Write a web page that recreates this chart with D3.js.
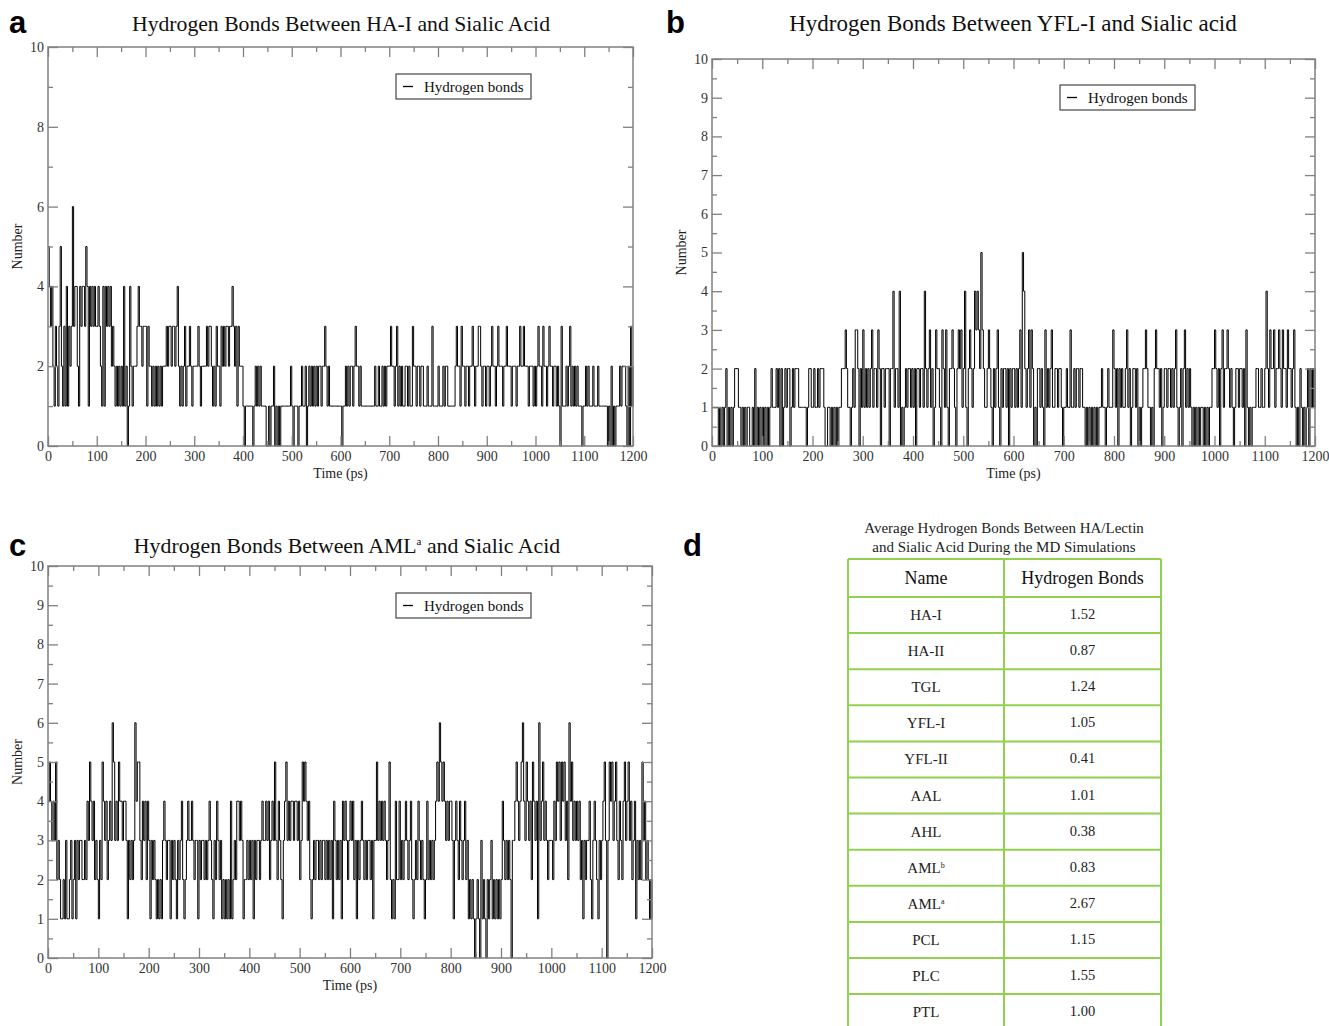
<!DOCTYPE html>
<html>
<head>
<meta charset="utf-8">
<script src="https://cdn.jsdelivr.net/npm/d3@7"></script>
<style>
  body { margin: 0; background: #fff; }
  svg text { font-family: "Liberation Serif", "Times New Roman", serif; }
</style>
</head>
<body>
<svg id="fig" width="1329" height="1026"></svg>
<script>
// sampling interval (ps); every string below covers 50 ps
var timeStep = 2.5;

// hydrogen bond counts (HA-I)
var hbondsA = [
  "54342132135213141323", "63442143443541434343", "34321414343423212121", "21412014212223433233",
  "31322121212121222323", "32332342121231223212", "22232122223233212132", "21323233233432313222",
  "10111111012121211110", "01011201010111111112", "10111011211201212121", "21221223212111111111",
  "10112121221232212111", "11111111211211212122", "23221231212112212113", "22122122111211131111",
  "21112122111111232213", "22122122321223321221", "22123221232221223222", "12221223223222122212",
  "12322132212322122121", "03111212312121211101", "12121112111211111110", "102010111212221020312"
];

// panel b (YFL-I)
var hbondsB = [
  "11111010101201010122", "21101010110010201010", "10101012111212020121", "22012122211111101221",
  "12112122210011010101", "01122232110121332021", "31212123122132022122", "20224122140101212212",
  "12022122142123120132", "21032131022321023231", "24102321243432532112", "32102123102122120212",
  "21212315421231320102", "21210312123112212210", "11211311212212211010", "10101010112110121113",
  "21202121123120122120", "10122321101023221201", "22122121231012023121", "21010101011010101122",
  "32120231223212101221", "22120310101112211211", "24213223122321322132", "212310102101012021212"
];

// panel c (AML a)
var hbondsC = [
  "45434352321121311231", "23132332232435434232", "13254342343653435443", "44313232364553243424",
  "31323212121343233132", "32132342123433432331", "32332323432132432312", "12121412324434312232",
  "32313233234334342343", "53243213453434434434", "23545434212323323233", "23232314323231434323",
  "43423132343232332313", "35343434323521214224", "23234323421232432321", "24232323454654543434",
  "43134324323423121210", "12103121021231212121", "24323232033454345643", "54342543416345343233",
  "32435453545342645343", "43423132334213432132", "34530354534532432453", "453423413232534232121"
];

var xMajor = d3.range(0, 1201, 100);
var xMinor = d3.range(50, 1200, 100);

// table d
var tableNames = ["HA-I", "HA-II", "TGL", "YFL-I", "YFL-II", "AAL", "AHL", "AML|b", "AML|a", "PCL", "PLC", "PTL"];
var tableValues = ["1.52", "0.87", "1.24", "1.05", "0.41", "1.01", "0.38", "0.83", "2.67", "1.15", "1.55", "1.00"];

function toPoints(chunks) {
  var pts = [];
  chunks.forEach(function(str, ci) {
    str.split("").forEach(function(c, j) {
      pts.push({ t: ci * 50 + j * timeStep, v: +c });
    });
  });
  return pts;
}

var svg = d3.select("#fig");
var frameColor = "#808080";

function drawPanel(p) {
  var x = d3.scaleLinear().domain([0, 1200]).range([p.left, p.right]);
  var y = d3.scaleLinear().domain([0, 10]).range([p.bottom, p.top]);
  var g = svg.append("g").attr("class", "panel");

  // data line
  var line = d3.line()
    .x(function(d) { return x(d.t); })
    .y(function(d) { return y(d.v); })
    .curve(d3.curveStepAfter);
  g.append("path")
    .datum(toPoints(p.series))
    .attr("fill", "none")
    .attr("stroke", "#000")
    .attr("stroke-width", 1)
    .attr("d", line);

  function styleAxis(sel) {
    sel.select(".domain").remove();
    sel.selectAll(".tick line").attr("stroke", frameColor).attr("stroke-width", 1.3);
    sel.selectAll(".tick text")
      .attr("fill", "#333")
      .style("font-size", "14px")
      .style("font-family", "Liberation Serif, serif");
  }

  // bottom axis with labels, inward ticks
  g.append("g").attr("transform", "translate(0," + p.bottom + ")")
    .call(d3.axisBottom(x).tickValues(xMajor).tickSize(-10).tickPadding(5).tickFormat(d3.format("d")))
    .call(styleAxis);
  g.append("g").attr("transform", "translate(0," + p.bottom + ")")
    .call(d3.axisBottom(x).tickValues(xMinor).tickSize(-5).tickFormat(""))
    .call(styleAxis);
  // top ticks
  g.append("g").attr("transform", "translate(0," + p.top + ")")
    .call(d3.axisTop(x).tickValues(xMajor).tickSize(-10).tickFormat(""))
    .call(styleAxis);
  g.append("g").attr("transform", "translate(0," + p.top + ")")
    .call(d3.axisTop(x).tickValues(xMinor).tickSize(-5).tickFormat(""))
    .call(styleAxis);

  // left / right
  g.append("g").attr("transform", "translate(" + p.left + ",0)")
    .call(d3.axisLeft(y).tickValues(p.yMajor).tickSize(-10).tickPadding(4).tickFormat(d3.format("d")))
    .call(styleAxis);
  g.append("g").attr("transform", "translate(" + p.left + ",0)")
    .call(d3.axisLeft(y).tickValues(p.yMinor).tickSize(-5).tickFormat(""))
    .call(styleAxis);
  g.append("g").attr("transform", "translate(" + p.right + ",0)")
    .call(d3.axisRight(y).tickValues(p.yMajor).tickSize(-10).tickFormat(""))
    .call(styleAxis);
  g.append("g").attr("transform", "translate(" + p.right + ",0)")
    .call(d3.axisRight(y).tickValues(p.yMinor).tickSize(-5).tickFormat(""))
    .call(styleAxis);

  // frame
  g.append("rect")
    .attr("x", p.left).attr("y", p.top)
    .attr("width", p.right - p.left).attr("height", p.bottom - p.top)
    .attr("fill", "none").attr("stroke", frameColor).attr("stroke-width", 1.5);

  // title
  var title = g.append("text")
    .attr("x", p.titleX).attr("y", p.titleY)
    .attr("text-anchor", "middle")
    .style("font-size", p.titleSize + "px")
    .attr("fill", "#111")
    .text(p.title[0]);
  if (p.title.length > 1) {
    title.append("tspan").attr("dy", -8).style("font-size", "11px").text(p.title[1]);
    title.append("tspan").attr("dy", 8).text(p.title[2]);
  }

  // panel letter
  svg.append("text")
    .attr("x", p.letterX).attr("y", p.letterY)
    .style("font-family", "Liberation Sans, Arial, sans-serif")
    .style("font-weight", "bold")
    .style("font-size", "31px")
    .text(p.letter);

  // axis labels
  g.append("text")
    .attr("x", (p.left + p.right) / 2).attr("y", p.bottom + 32)
    .attr("text-anchor", "middle")
    .style("font-size", "14px")
    .attr("fill", "#222")
    .text("Time (ps)");
  g.append("text")
    .attr("transform", "translate(" + (p.left - 26) + "," + ((p.top + p.bottom) / 2) + ") rotate(-90)")
    .attr("text-anchor", "middle")
    .style("font-size", "14px")
    .attr("fill", "#222")
    .text("Number");

  // legend
  var lg = g.append("g").attr("transform", "translate(" + p.legendX + "," + p.legendY + ")");
  lg.append("rect").attr("width", 135).attr("height", 25)
    .attr("fill", "#fff").attr("stroke", "#444").attr("stroke-width", 1.2);
  lg.append("line").attr("x1", 7).attr("x2", 17).attr("y1", 12.5).attr("y2", 12.5)
    .attr("stroke", "#000").attr("stroke-width", 1.3);
  lg.append("text").attr("x", 28).attr("y", 17.5)
    .style("font-size", "15px").attr("fill", "#111")
    .text("Hydrogen bonds");
}

drawPanel({
  left: 48, right: 633, top: 47, bottom: 446,
  yMajor: d3.range(0, 11, 2), yMinor: d3.range(1, 10, 2),
  series: hbondsA,
  title: ["Hydrogen Bonds Between HA-I and Sialic Acid"], titleX: 341, titleY: 31, titleSize: 21.7,
  letter: "a", letterX: 9, letterY: 33,
  legendX: 396, legendY: 74
});

drawPanel({
  left: 712, right: 1315, top: 59, bottom: 446,
  yMajor: d3.range(0, 11, 1), yMinor: d3.range(0.5, 10, 1),
  series: hbondsB,
  title: ["Hydrogen Bonds Between YFL-I and Sialic acid"], titleX: 1013, titleY: 31, titleSize: 23,
  letter: "b", letterX: 666, letterY: 33,
  legendX: 1060, legendY: 85
});

drawPanel({
  left: 48, right: 652, top: 566, bottom: 958,
  yMajor: d3.range(0, 11, 1), yMinor: d3.range(0.5, 10, 1),
  series: hbondsC,
  title: ["Hydrogen Bonds Between AML", "a", " and Sialic Acid"], titleX: 347, titleY: 553, titleSize: 21.8,
  letter: "c", letterX: 9, letterY: 556,
  legendX: 396, legendY: 593
});

// panel d: table
svg.append("text")
  .attr("x", 683).attr("y", 556)
  .style("font-family", "Liberation Sans, Arial, sans-serif")
  .style("font-weight", "bold")
  .style("font-size", "31px")
  .text("d");

var tableTitle = ["Average Hydrogen Bonds Between HA/Lectin", "and Sialic Acid During the MD Simulations"];
svg.selectAll("text.ttitle")
  .data(tableTitle)
  .enter().append("text")
  .attr("class", "ttitle")
  .attr("x", 1004)
  .attr("y", function(d, i) { return 533 + i * 19; })
  .attr("text-anchor", "middle")
  .style("font-size", "15px")
  .attr("fill", "#222")
  .text(function(d) { return d; });

var green = "#92d050";
var colX = [848, 1004, 1161];
var rowBand = d3.scaleBand().domain(d3.range(tableNames.length)).range([597, 597 + 36.1 * tableNames.length]);
var tg = svg.append("g").attr("class", "table");

// header
tg.append("text").attr("x", (colX[0] + colX[1]) / 2).attr("y", 584)
  .attr("text-anchor", "middle").style("font-size", "18px").attr("fill", "#111").text("Name");
tg.append("text").attr("x", (colX[1] + colX[2]) / 2).attr("y", 584)
  .attr("text-anchor", "middle").style("font-size", "18px").attr("fill", "#111").text("Hydrogen Bonds");

var rows = tg.selectAll("g.row")
  .data(tableNames.map(function(n, i) { return { name: n, value: tableValues[i], i: i }; }))
  .enter().append("g").attr("class", "row");

rows.append("text")
  .attr("x", (colX[0] + colX[1]) / 2)
  .attr("y", function(d) { return rowBand(d.i) + rowBand.bandwidth() / 2 + 5; })
  .attr("text-anchor", "middle")
  .style("font-size", "15px")
  .attr("fill", "#222")
  .each(function(d) {
    var parts = d.name.split("|");
    var t = d3.select(this);
    t.append("tspan").text(parts[0]);
    if (parts[1]) t.append("tspan").attr("dy", -5).style("font-size", "8px").text(parts[1]);
  });

rows.append("text")
  .attr("x", (colX[1] + colX[2]) / 2)
  .attr("y", function(d) { return rowBand(d.i) + rowBand.bandwidth() / 2 + 4; })
  .attr("text-anchor", "middle")
  .style("font-size", "14.5px")
  .attr("fill", "#222")
  .text(function(d) { return d.value; });

// grid lines
var hLines = [559].concat(d3.range(tableNames.length + 1).map(function(i) { return 597 + 36.1 * i; }));
tg.selectAll("line.h").data(hLines).enter().append("line")
  .attr("x1", colX[0]).attr("x2", colX[2])
  .attr("y1", function(d) { return d; }).attr("y2", function(d) { return d; })
  .attr("stroke", green).attr("stroke-width", 2);
tg.selectAll("line.v").data(colX).enter().append("line")
  .attr("x1", function(d) { return d; }).attr("x2", function(d) { return d; })
  .attr("y1", 559).attr("y2", 1040)
  .attr("stroke", green).attr("stroke-width", 2);
</script>
</body>
</html>
